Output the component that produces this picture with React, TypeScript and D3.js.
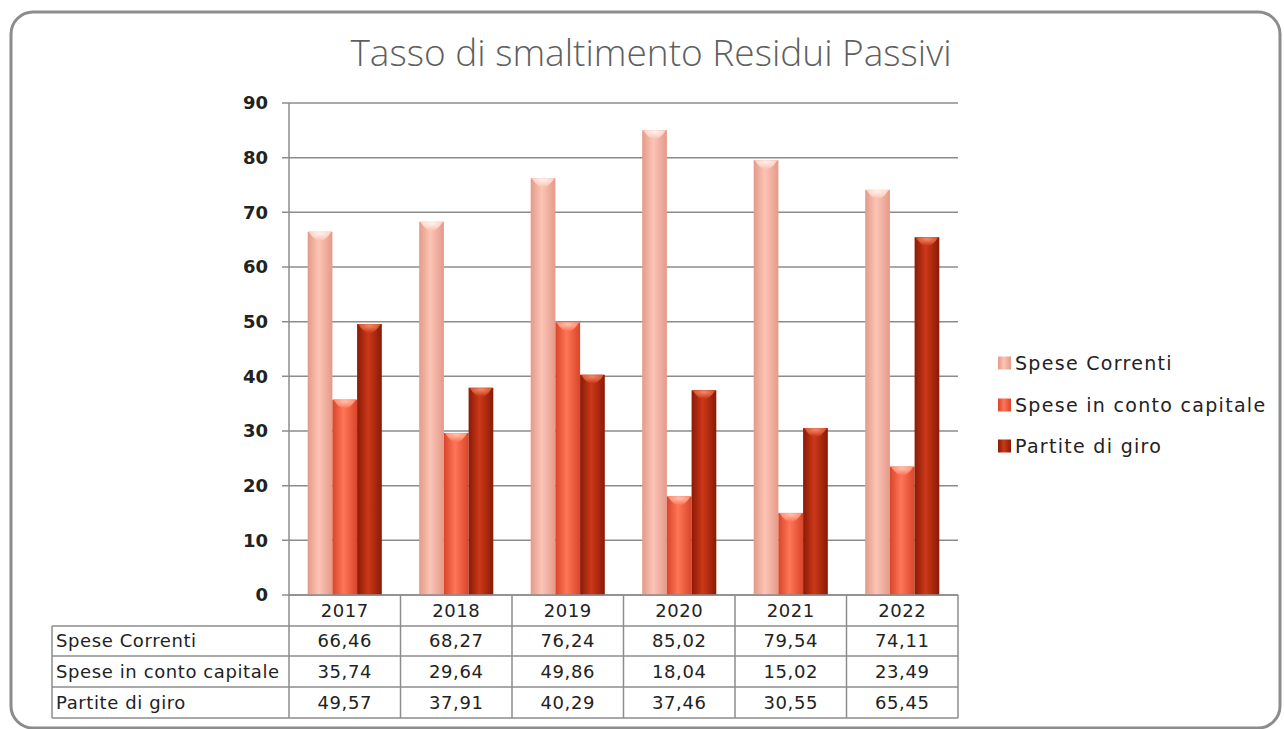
import React, { useEffect, useRef } from 'react';
import * as d3 from 'd3';

const years = ['2017', '2018', '2019', '2020', '2021', '2022'];
const seriesNames = ['Spese Correnti', 'Spese in conto capitale', 'Partite di giro'];
const speseCorrenti = [66.46, 68.27, 76.24, 85.02, 79.54, 74.11];
const speseCapitale = [35.74, 29.64, 49.86, 18.04, 15.02, 23.49];
const partiteGiro = [49.57, 37.91, 40.29, 37.46, 30.55, 65.45];
const yTicks = [0, 10, 20, 30, 40, 50, 60, 70, 80, 90];

// colori: bordo, centro, cappuccio
const palette = [
  { edge: '#e49a88', mid: '#fcc4b6', cap: '#fff1ec' },
  { edge: '#d9452a', mid: '#ff7556', cap: '#ffc2ae' },
  { edge: '#8a1a06', mid: '#cc3818', cap: '#f08a66' },
];

const W = 1284;
const H = 729;

const App = () => {
  const svgRef = useRef<SVGSVGElement>(null);

  useEffect(() => {
    const svg = d3.select(svgRef.current);
    svg.selectAll('*').remove();

    const data = [speseCorrenti, speseCapitale, partiteGiro];
    const left = 289, right = 958, top = 103, bottom = 595;
    const font = '"DejaVu Sans", sans-serif';

    const x = d3.scaleBand().domain(years).range([left, right]);
    const y = d3.scaleLinear().domain([0, 90]).range([bottom, top]);
    const barW = 24.7;
    const x1 = d3.scaleBand().domain(seriesNames).range([0, barW * 3]);

    const defs = svg.append('defs');
    palette.forEach((p, i) => {
      const g = defs.append('linearGradient').attr('id', `bar${i}`).attr('x1', '0').attr('x2', '1');
      g.append('stop').attr('offset', '0%').attr('stop-color', p.edge);
      g.append('stop').attr('offset', '45%').attr('stop-color', p.mid);
      g.append('stop').attr('offset', '100%').attr('stop-color', p.edge);
      const c = defs.append('radialGradient').attr('id', `cap${i}`).attr('cx', '0.5').attr('cy', '0.2').attr('r', '0.7');
      c.append('stop').attr('offset', '0%').attr('stop-color', p.cap);
      c.append('stop').attr('offset', '100%').attr('stop-color', p.mid);
    });

    // cornice
    svg.append('rect')
      .attr('x', 11).attr('y', 12).attr('width', 1269).attr('height', 716)
      .attr('rx', 22).attr('fill', '#fff').attr('stroke', '#8c8c8c').attr('stroke-width', 3);

    svg.append('text')
      .attr('x', 651).attr('y', 66).attr('text-anchor', 'middle')
      .style('font-family', '"Open Sans", sans-serif').style('font-weight', 300).style('font-size', '37px')
      .attr('fill', '#5f5f5f')
      .text('Tasso di smaltimento Residui Passivi');

    // griglia
    svg.append('g').selectAll('line').data(yTicks).join('line')
      .attr('x1', left - 7).attr('x2', right)
      .attr('y1', d => y(d)).attr('y2', d => y(d))
      .attr('stroke', '#8c8c8c').attr('stroke-width', 1.5);
    svg.append('line').attr('x1', left).attr('x2', left).attr('y1', top).attr('y2', bottom)
      .attr('stroke', '#8c8c8c').attr('stroke-width', 1.5);

    svg.append('g').selectAll('text').data(yTicks).join('text')
      .attr('x', 268).attr('y', d => y(d)).attr('dy', '0.35em').attr('text-anchor', 'end')
      .style('font-family', font).style('font-weight', 700).style('font-size', '18px')
      .attr('fill', '#222').text(d => d);

    // barre
    const groups = svg.append('g').selectAll('g').data(years).join('g')
      .attr('transform', d => `translate(${x(d)! + x.bandwidth() / 2 - barW * 1.5},0)`);
    groups.each(function (_, yi) {
      const g = d3.select(this);
      seriesNames.forEach((s, si) => {
        const v = data[si][yi];
        const bx = x1(s)!;
        g.append('rect')
          .attr('x', bx).attr('y', y(v)).attr('width', barW).attr('height', bottom - y(v))
          .attr('fill', `url(#bar${si})`);
        const capH = 9;
        g.append('path')
          .attr('d', `M${bx + 1},${y(v)} Q${bx + barW / 2},${y(v) + capH * 2} ${bx + barW - 1},${y(v)} Z`)
          .attr('fill', `url(#cap${si})`);
      });
    });

    // tabella
    const rowH = [595, 626, 656, 687, 718];
    const labelL = 52;
    const tg = svg.append('g');
    const line = (x1v: number, y1v: number, x2v: number, y2v: number) =>
      tg.append('line').attr('x1', x1v).attr('y1', y1v).attr('x2', x2v).attr('y2', y2v)
        .attr('stroke', '#8c8c8c').attr('stroke-width', 1.5);
    line(left, rowH[0], right, rowH[0]);
    rowH.slice(1).forEach(r => line(labelL, r, right, r));
    line(labelL, rowH[1], labelL, rowH[4]);
    years.forEach(yr => line(x(yr)!, rowH[0], x(yr)!, rowH[4]));
    line(right, rowH[0], right, rowH[4]);

    const tt = (xv: number, yv: number, t: string, anchor: string) =>
      tg.append('text').attr('x', xv).attr('y', yv).attr('dy', '0.35em').attr('text-anchor', anchor)
        .style('font-family', font).style('font-size', '18px').style('letter-spacing', '0.6px')
        .attr('fill', '#222').text(t);
    const fmt = (v: number) => v.toFixed(2).replace('.', ',');
    years.forEach((yr, yi) => {
      const cx = x(yr)! + x.bandwidth() / 2;
      tt(cx, (rowH[0] + rowH[1]) / 2, yr, 'middle');
      data.forEach((ser, si) => tt(cx, (rowH[si + 1] + rowH[si + 2]) / 2, fmt(ser[yi]), 'middle'));
    });
    seriesNames.forEach((s, si) => tt(labelL + 4, (rowH[si + 1] + rowH[si + 2]) / 2, s, 'start'));

    // legenda
    const legY = [363, 405, 446];
    const lg = svg.append('g').selectAll('g').data(seriesNames).join('g')
      .attr('transform', (_, i) => `translate(998,${legY[i]})`);
    lg.append('rect').attr('x', 0).attr('y', -6.5).attr('width', 13).attr('height', 13)
      .attr('fill', (_, i) => `url(#bar${i})`);
    lg.append('text').attr('x', 17).attr('dy', '0.35em')
      .style('font-family', font).style('font-size', '19px').style('letter-spacing', '1.3px')
      .attr('fill', '#222').text(d => d);
  }, []);

  return (
    <svg ref={svgRef} width={W} height={H} style={{ position: 'absolute', left: 0, top: 0, background: '#fff' }} />
  );
};

export default App;
